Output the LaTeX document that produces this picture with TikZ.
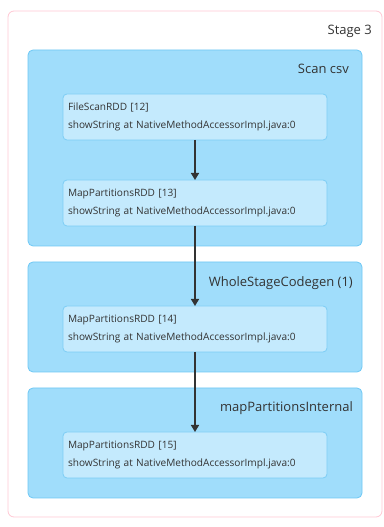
\documentclass[tikz,border=0pt]{standalone}
\usepackage{fontspec}
\setmainfont{Open Sans}
\usetikzlibrary{arrows.meta, positioning}
\definecolor{RoseStage}{RGB}{255,200,212}
\definecolor{BleuCluster}{RGB}{160,221,251}
\definecolor{BordCluster}{RGB}{110,200,245}
\definecolor{BleuRDD}{RGB}{196,234,253}
\definecolor{BordRDD}{RGB}{125,205,245}
\definecolor{Texte}{RGB}{51,51,51}
\tikzset{stage/.style={rectangle, rounded corners=6pt,
  draw=RoseStage, fill=white, line width=0.8pt, outer sep=0pt,
  minimum width=374pt, minimum height=506pt}}
\tikzset{cluster/.style={rectangle, rounded corners=5pt,
  draw=BordCluster, fill=BleuCluster, line width=0.8pt, outer sep=0pt,
  minimum width=334pt}}
\tikzset{rdd/.style={rectangle, rounded corners=4pt,
  draw=BordRDD, fill=BleuRDD, line width=0.8pt, outer sep=0pt,
  text width=254pt, align=left, inner sep=5pt, minimum height=46pt,
  font=\fontsize{10.1}{18.5}\selectfont, text=Texte}}
\tikzset{titre/.style={anchor=base east, inner sep=0pt,
  font=\fontsize{13}{15}\selectfont, text=Texte}}
\tikzset{fl/.style={-{Triangle[length=7pt, width=8pt]}, draw=Texte, line width=1.5pt}}

\begin{document}
\begin{tikzpicture}
\useasboundingbox (0,0) rectangle (383pt,527pt);
\node[stage] (s3) at (195pt,263pt) {};
\node[cluster, minimum height=196pt] (c1) at (195pt,379pt) {};
\node[cluster, minimum height=110pt, below=16pt of c1] (c2) {};
\node[cluster, minimum height=110pt, below=16pt of c2] (c3) {};
\node[titre] (t0) at ([shift={(-10pt,-24pt)}]s3.north east) {Stage 3};
\node[titre] (t1) at ([shift={(-13pt,-24pt)}]c1.north east) {Scan csv};
\node[titre] (t2) at ([shift={(-9pt,-25pt)}]c2.north east) {WholeStageCodegen (1)};
\node[titre] (t3) at ([shift={(-9pt,-24pt)}]c3.north east) {mapPartitionsInternal};
\node[rdd, above=20pt of c1.south] (r13) {MapPartitionsRDD [13]\\showString at NativeMethodAccessorImpl.java:0};
\node[rdd, above=40pt of r13] (r12) {FileScanRDD [12]\\showString at NativeMethodAccessorImpl.java:0};
\node[rdd, above=20pt of c2.south] (r14) {MapPartitionsRDD [14]\\showString at NativeMethodAccessorImpl.java:0};
\node[rdd, above=20pt of c3.south] (r15) {MapPartitionsRDD [15]\\showString at NativeMethodAccessorImpl.java:0};
\draw[fl] (r12) -- (r13);
\draw[fl] (r13) -- (r14);
\draw[fl] (r14) -- (r15);
\end{tikzpicture}
\end{document}
